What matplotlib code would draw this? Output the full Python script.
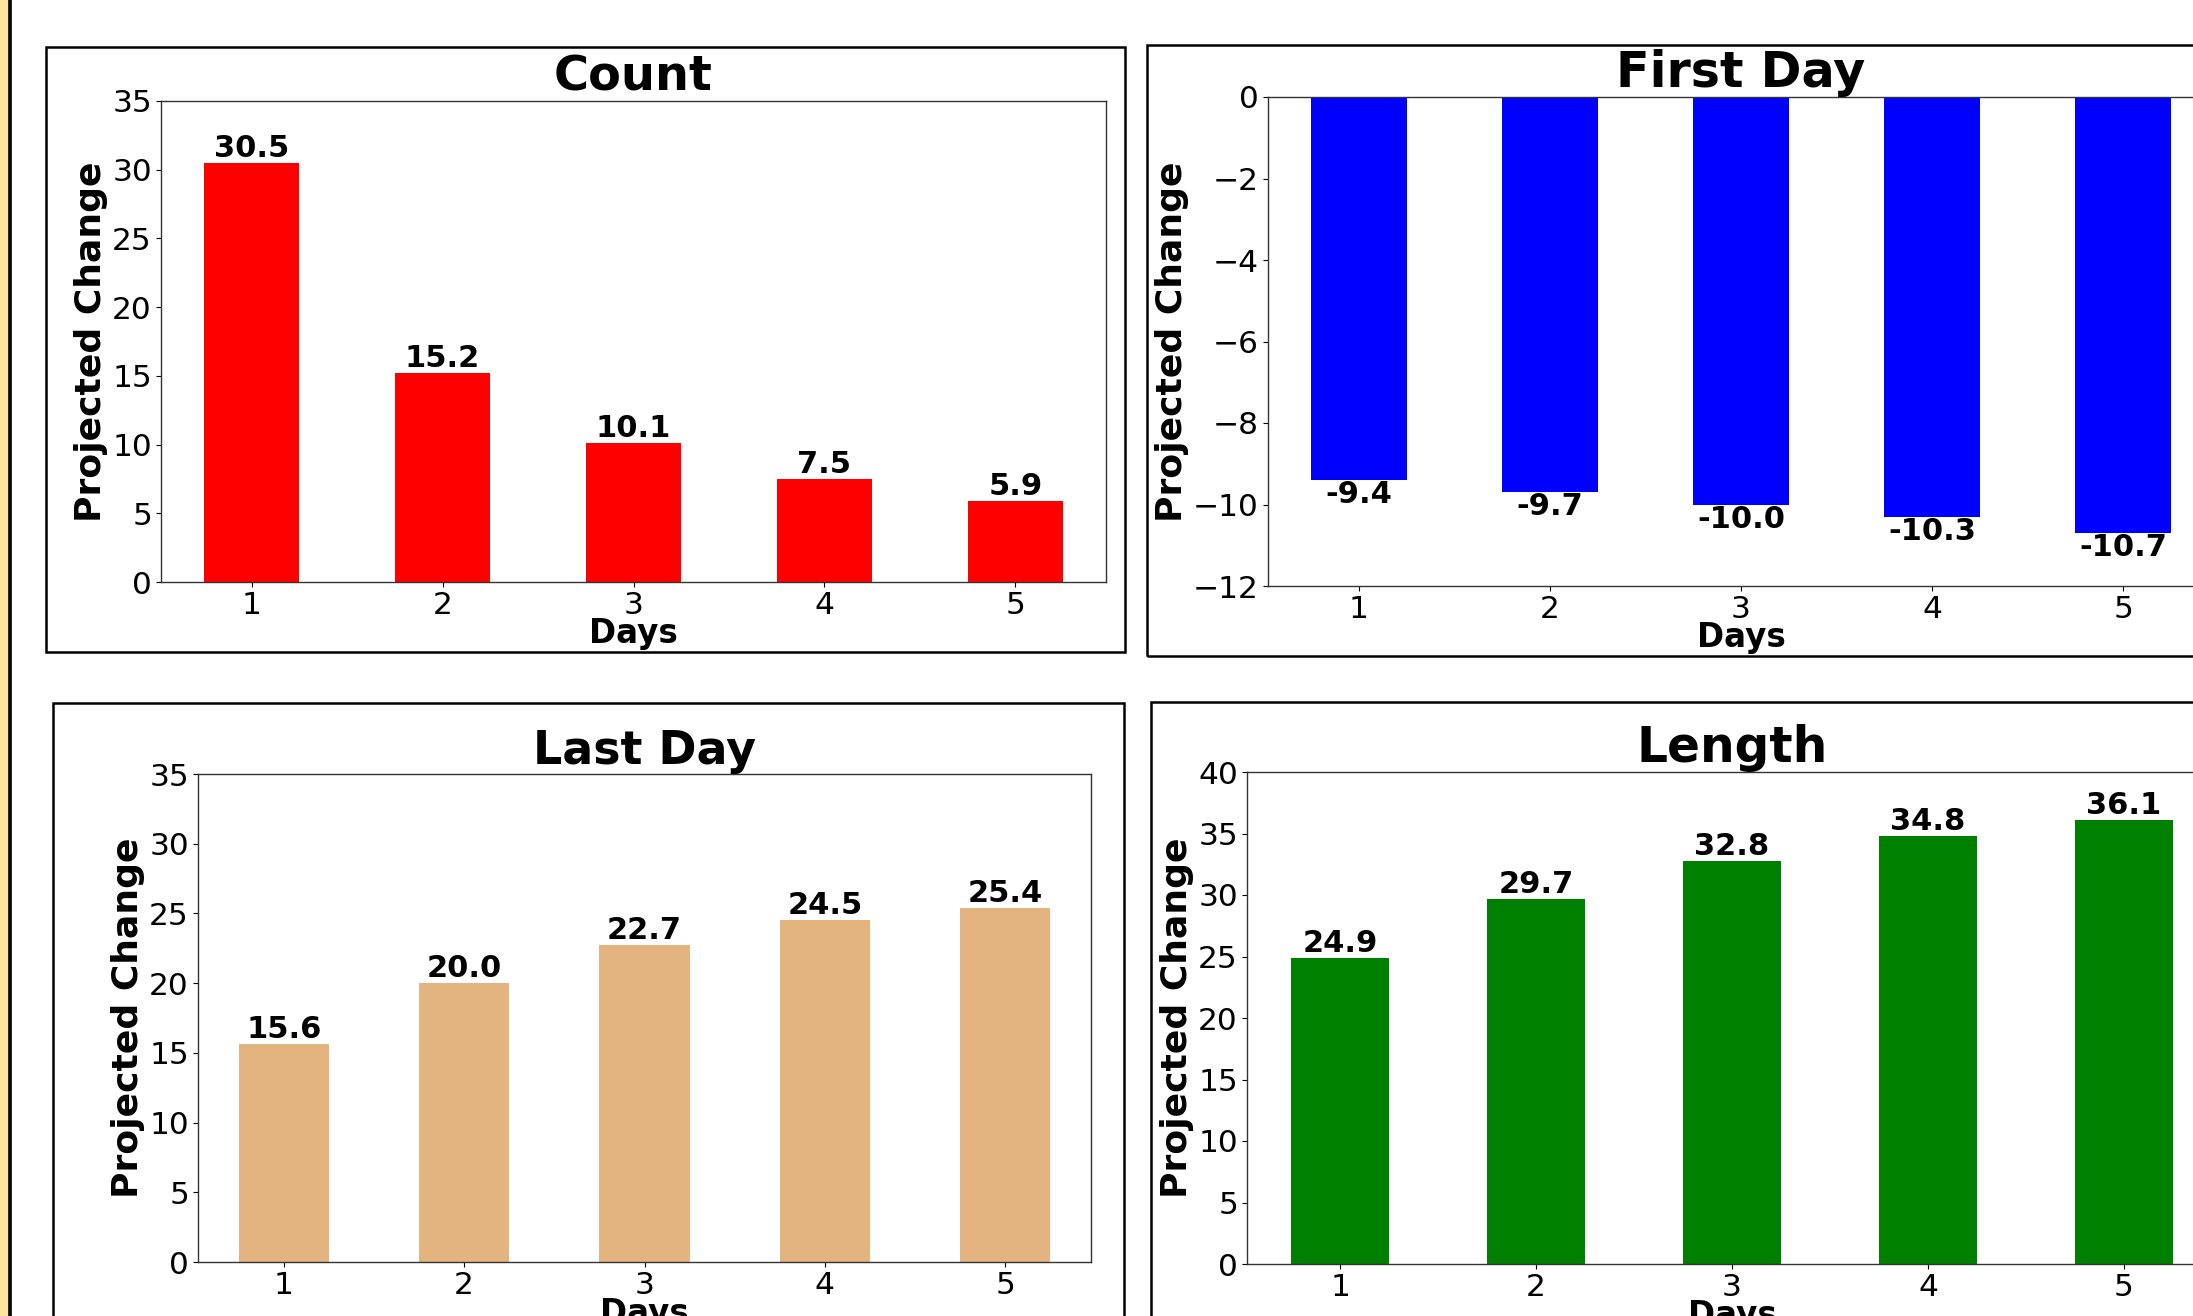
import matplotlib
matplotlib.use("Agg")
import matplotlib.pyplot as plt
from matplotlib.patches import Rectangle

days = [1, 2, 3, 4, 5]
count_vals = [30.5, 15.2, 10.1, 7.5, 5.9]
first_day_vals = [-9.4, -9.7, -10.0, -10.3, -10.7]
last_day_vals = [15.6, 20.0, 22.7, 24.5, 25.4]
length_vals = [24.9, 29.7, 32.8, 34.8, 36.1]

W, H = 2193, 1316
fig = plt.figure(figsize=(W / 100, H / 100), dpi=100)


def px_rect(left, right, top, bottom):
    # pixel box (from top-left) -> figure fraction rect
    return [left / W, 1 - bottom / H, (right - left) / W, (bottom - top) / H]


# yellow strip on the left edge and its black rule
fig.add_artist(Rectangle((0, 0), 7.5 / W, 1, transform=fig.transFigure,
                         facecolor="#FFE599", edgecolor="none"))
fig.add_artist(Rectangle((8.8 / W, 0), 0.001, 1, transform=fig.transFigure,
                         facecolor="black", edgecolor="black", lw=1.2))

# frames round each panel
for l, r, t, b in [(46, 1125, 47, 652), (1147, 2260, 45, 656),
                   (53, 1124, 703, 1360), (1151, 2260, 702, 1360)]:
    fig.add_artist(Rectangle((l / W, 1 - b / H), (r - l) / W, (b - t) / H,
                             transform=fig.transFigure, fill=False,
                             edgecolor="black", lw=1.8))

panels = [
    ("Count", count_vals, "red", (0, 35), range(0, 36, 5), (161, 1106, 101, 582), 34.5),
    ("First Day", first_day_vals, "blue", (-12, 0), range(-12, 1, 2), (1268, 2214, 97, 586), 35.5),
    ("Last Day", last_day_vals, "#E3B47F", (0, 35), range(0, 36, 5), (198, 1091, 774, 1262), 33),
    ("Length", length_vals, "green", (0, 40), range(0, 41, 5), (1247, 2217, 772, 1264), 35),
]

for title, vals, color, ylim, yticks, box, tsize in panels:
    ax = fig.add_axes(px_rect(*box))
    ax.bar(days, vals, width=0.5, color=color)
    for d, v in zip(days, vals):
        ax.text(d, v, f"{v:.1f}", ha="center", va="bottom" if v >= 0 else "top",
                fontsize=22, fontweight="bold")
    ax.set_ylim(*ylim)
    ax.set_yticks(list(yticks))
    ax.set_xticks(days)
    ax.tick_params(labelsize=22.5, pad=3)
    ax.set_title(title, fontsize=tsize, fontweight="bold", pad=7)
    ax.set_xlabel("Days", fontsize=23.5, fontweight="bold", labelpad=-2)
    ax.set_ylabel("Projected Change", fontsize=26, fontweight="bold", labelpad=3)
    for s in ax.spines.values():
        s.set_color("#333333")
        s.set_linewidth(1.0)

fig.savefig("out.png", dpi=100)
